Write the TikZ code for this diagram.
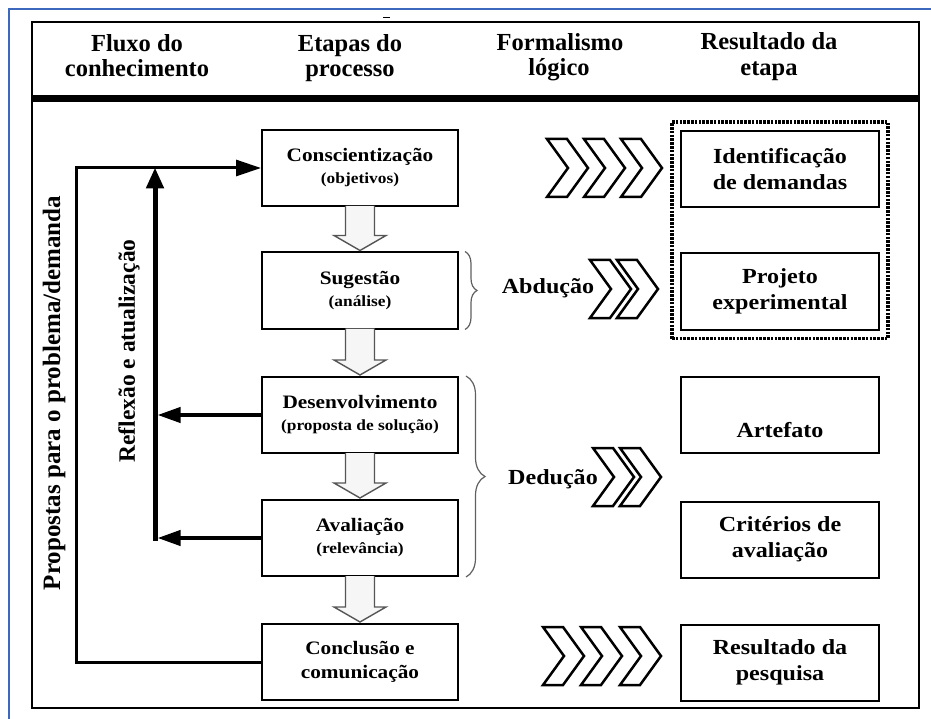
\documentclass[tikz,border=0pt]{standalone}
\usepackage{fontspec}
\setmainfont{Liberation Serif}
\newfontfamily\wideserif[FakeStretch=1.12]{Liberation Serif}
\usetikzlibrary{arrows.meta,calc,fit,decorations.pathreplacing}
\definecolor{bluefr}{RGB}{60,105,190}
\definecolor{arrfill}{RGB}{246,246,246}
\definecolor{arredge}{RGB}{85,85,85}
\definecolor{bracecol}{RGB}{95,95,95}
\newcommand\subt{\fontsize{15.5}{22}\selectfont}
\tikzset{
  stage/.style={draw=black, line width=2pt, minimum width=196pt, minimum height=76pt,
    inner sep=0pt, align=center, fill=white,
    font=\wideserif\bfseries\fontsize{19}{22}\selectfont},
  result/.style={stage, minimum width=198pt,
    font=\wideserif\bfseries\fontsize{21.5}{26}\selectfont},
  rtext/.style={inner sep=0pt, font=\wideserif\bfseries\fontsize{21.5}{26}\selectfont},
  headtxt/.style={anchor=base, inner sep=0pt, font=\bfseries\fontsize{24.5}{26}\selectfont},
  formal/.style={anchor=base, inner sep=0pt, font=\wideserif\bfseries\fontsize{21.5}{26}\selectfont},
  barrow/.style={draw=arredge, fill=arrfill, line width=1.4pt, line join=miter},
  chevst/.style={draw=black, fill=white, line width=2.5pt, line join=miter},
  bracest/.style={draw=bracecol, line width=1.2pt, decorate},
  flowline/.style={line width=3pt, -{Triangle[length=25pt,width=16pt]}},
  refline/.style={line width=5pt},
  refarrow/.style={line width=4pt, -{Triangle[length=23pt,width=15pt]}},
  dashbox/.style={draw=black, line width=3.5pt, dash pattern=on 2.5pt off 1.3pt, inner sep=8pt}
}
\newcommand\blockarrow[2]{%
  \draw[barrow] ($(#1.south)+(-14.5,-1)$) -- ($(#2.north)+(-14.5,-16)$) -- ($(#2.north)+(-26,-16)$)
    -- ($(#2.north)+(0,-1)$) -- ($(#2.north)+(26,-16)$) -- ($(#2.north)+(14.5,-16)$)
    -- ($(#1.south)+(14.5,-1)$);}
\newcommand\chev[3]{%
  \draw[chevst] (#1,#2) -- ++(20,0) -- ++(21,#3/2) -- ++(-21,#3/2) -- ++(-20,0) -- ++(21,-#3/2) -- cycle;}
\begin{document}
\begin{tikzpicture}[x=1pt,y=-1pt]
\useasboundingbox (0,0) rectangle (931,719);
% page border and frame
\draw[bluefr, line width=2pt] (9,719) -- (9,9) -- (931,9);
\draw[line width=2pt] (32,22) rectangle (919,708);
\fill[black] (32,95.5) rectangle (919,102.5);
\draw[line width=1.5pt] (383,17.5) -- (390,17.5);
% headers
\node[headtxt] (h1a) at (137,52) {Fluxo do};
\node[headtxt] (h1b) at (137,77) {conhecimento};
\node[headtxt] (h2a) at (350,52) {Etapas do};
\node[headtxt] (h2b) at (350,77) {processo};
\node[headtxt] (h3a) at (560,51) {Formalismo};
\node[headtxt] (h3b) at (559,76) {lógico};
\node[headtxt] (h4a) at (769,50) {Resultado da};
\node[headtxt] (h4b) at (769,76) {etapa};
% stage boxes
\node[stage] (consc) at (360,168) {Conscientização\\{\subt (objetivos)}};
\node[stage] (sug) at (360,290.5) {Sugestão\\{\subt (análise)}};
\node[stage] (desen) at (360,415) {Desenvolvimento\\{\subt (proposta de solução)}};
\node[stage] (aval) at (360,538) {Avaliação\\{\subt (relevância)}};
\node[stage, font=\wideserif\bfseries\fontsize{19}{24}\selectfont] (concl) at (360,662) {Conclusão e\\comunicação};
% block arrows
\blockarrow{consc}{sug}
\blockarrow{sug}{desen}
\blockarrow{desen}{aval}
\blockarrow{aval}{concl}
% result boxes
\node[result] (ident) at (780,169) {Identificação\\de demandas};
\node[result] (proj) at (780,291.5) {Projeto\\experimental};
\node[result] (art) at (780,415) {};
\node[rtext] (artt) at (780,430) {Artefato};
\node[result] (crit) at (780,539.5) {Critérios de\\avaliação};
\node[result] (resq) at (780,662.5) {Resultado da\\pesquisa};
\node[dashbox, fit=(ident)(proj)] (grp) {};
% flow of knowledge
\draw[flowline] (concl.west) -- ++(-185,0) |- (consc.west);
\coordinate (rx) at (155,0);
\draw[refline, -{Triangle[length=21pt,width=17pt]}] ($(aval.west -| rx)+(0,2.5)$) -- ($(consc.west -| rx)+(0,-0.5)$);
\draw[refarrow] (desen.west) -- ($(desen.west -| rx)+(2.5,0)$);
\draw[refarrow] (aval.west) -- ($(aval.west -| rx)+(2.5,0)$);
\node[rotate=90, inner sep=0pt, font=\bfseries\fontsize{25}{30}\selectfont] (prop) at (54,393) {Propostas para o problema/demanda};
\node[rotate=90, inner sep=0pt, font=\bfseries\fontsize{23.5}{28}\selectfont] (refl) at (129,351) {Reflexão e atualização};
% braces and formalism
\draw[bracest, decoration={brace, amplitude=12pt}] ($(sug.north east)+(6,0)$) -- ($(sug.south east)+(6,0)$);
\draw[bracest, decoration={brace, amplitude=19pt}] ($(desen.north east)+(7,0)$) -- ($(aval.south east)+(7,0)$);
\node[formal] (abd) at (548,294) {Abdução};
\node[formal] (ded) at (553,484) {Dedução};
% chevrons
\chev{547}{139}{58}
\chev{584}{139}{58}
\chev{621}{139}{58}
\chev{590}{260}{58}
\chev{617}{260}{58}
\chev{593}{448}{58}
\chev{620}{448}{58}
\chev{543}{627}{58}
\chev{581}{627}{58}
\chev{620}{627}{58}
\end{tikzpicture}
\end{document}
